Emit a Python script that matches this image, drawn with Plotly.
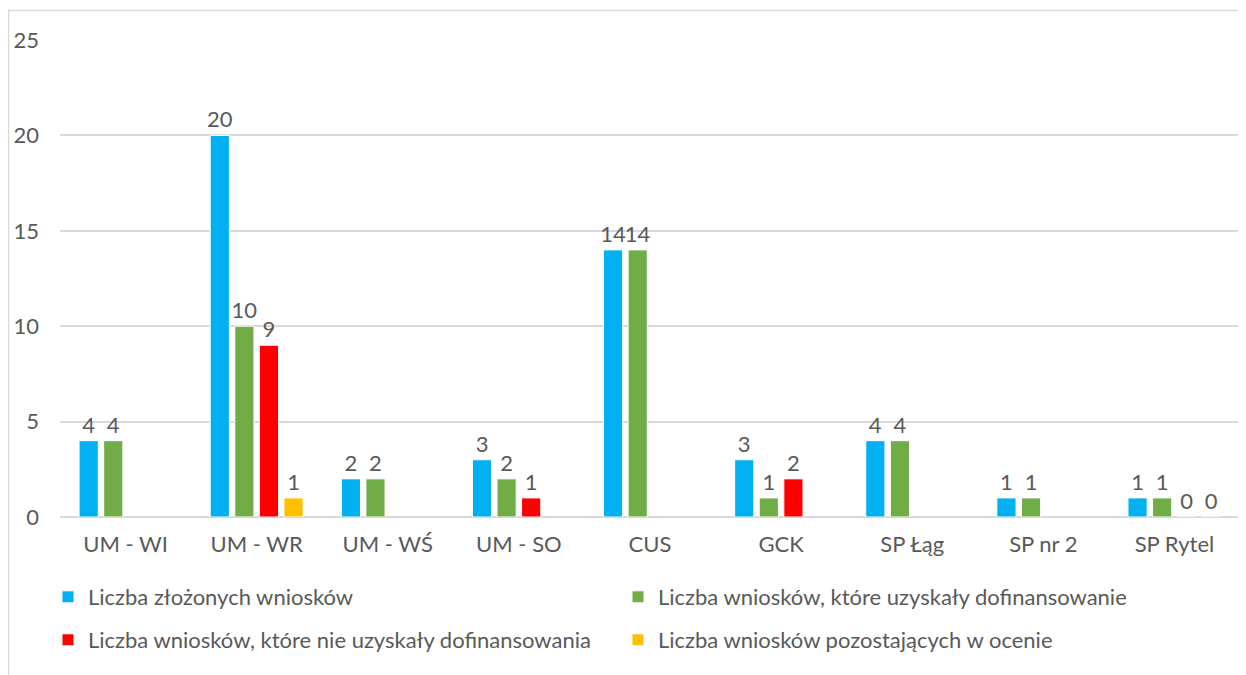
import plotly.graph_objects as go

categories = ["UM - WI", "UM - WR", "UM - WŚ", "UM - SO", "CUS", "GCK", "SP Łąg", "SP nr 2", "SP Rytel"]
zlozone = [4, 20, 2, 3, 14, 3, 4, 1, 1]
uzyskaly = [4, 10, 2, 2, 14, 1, 4, 1, 1]
nie_uzyskaly = [None, 9, None, 1, None, 2, None, None, 0]
w_ocenie = [None, 1, None, None, None, None, None, None, 0]

series_names = [
    "Liczba złożonych wniosków",
    "Liczba wniosków, które uzyskały dofinansowanie",
    "Liczba wniosków, które nie uzyskały dofinansowania",
    "Liczba wniosków pozostających w ocenie",
]
series_values = [zlozone, uzyskaly, nie_uzyskaly, w_ocenie]
colors = ["#00B0F0", "#70AD47", "#FF0000", "#FFC000"]
legends = ["legend", "legend", "legend2", "legend2"]

FONT = "Lato, 'Open Sans', sans-serif"
GREY = "#595959"
FS = 22

fig = go.Figure()
for name, vals, col, lg in zip(series_names, series_values, colors, legends):
    fig.add_trace(go.Bar(
        x=categories, y=vals, name=name,
        marker=dict(color=col, line=dict(color="white", width=1)),
        text=[("" if v is None else str(v)) for v in vals],
        textposition="outside",
        constraintext="none",
        textfont=dict(family=FONT, size=FS, color=GREY),
        cliponaxis=False,
        legend=lg,
    ))

# page body has an 8px margin; compensate so the plot lands where the reference has it
OFF = 8
W, H = 1246, 675
L, R, T, B = 60 - OFF, 14, 40 - OFF, 166
pw, ph = W - L - R, H - T - B

def px_x(x):
    return (x - OFF - L) / pw

def px_y(y):
    return (H - B - (y - OFF)) / ph

fig.update_layout(
    width=W, height=H,
    margin=dict(l=L, r=R, t=T, b=B, autoexpand=False),
    paper_bgcolor="white", plot_bgcolor="white",
    barmode="group", bargap=0.25, bargroupgap=0.22,
    font=dict(family=FONT, size=FS, color=GREY),
    legend=dict(orientation="h", x=px_x(48), xanchor="left", y=px_y(597), yanchor="middle",
                entrywidth=525, font=dict(size=FS, color=GREY), bgcolor="rgba(0,0,0,0)",
                traceorder="normal"),
    legend2=dict(orientation="h", x=px_x(48), xanchor="left", y=px_y(640), yanchor="middle",
                 entrywidth=525, font=dict(size=FS, color=GREY), bgcolor="rgba(0,0,0,0)",
                 traceorder="normal"),
    xaxis=dict(showline=False, showgrid=False, ticks="", tickfont=dict(size=FS, color=GREY),
               ticklabelstandoff=12),
    yaxis=dict(range=[0, 25], dtick=5, showgrid=True, gridcolor="#D9D9D9", gridwidth=1.5,
               zeroline=True, zerolinecolor="#D9D9D9", zerolinewidth=1.5, showline=False,
               ticks="", tickfont=dict(size=FS, color=GREY), ticklabelstandoff=20),
    shapes=[dict(type="rect", xref="paper", yref="paper",
                 x0=px_x(8.5), x1=px_x(1280), y0=px_y(720), y1=px_y(10.5),
                 line=dict(color="#D9D9D9", width=1.5), fillcolor="rgba(0,0,0,0)", layer="below")],
)

fig.write_html("out.html")
